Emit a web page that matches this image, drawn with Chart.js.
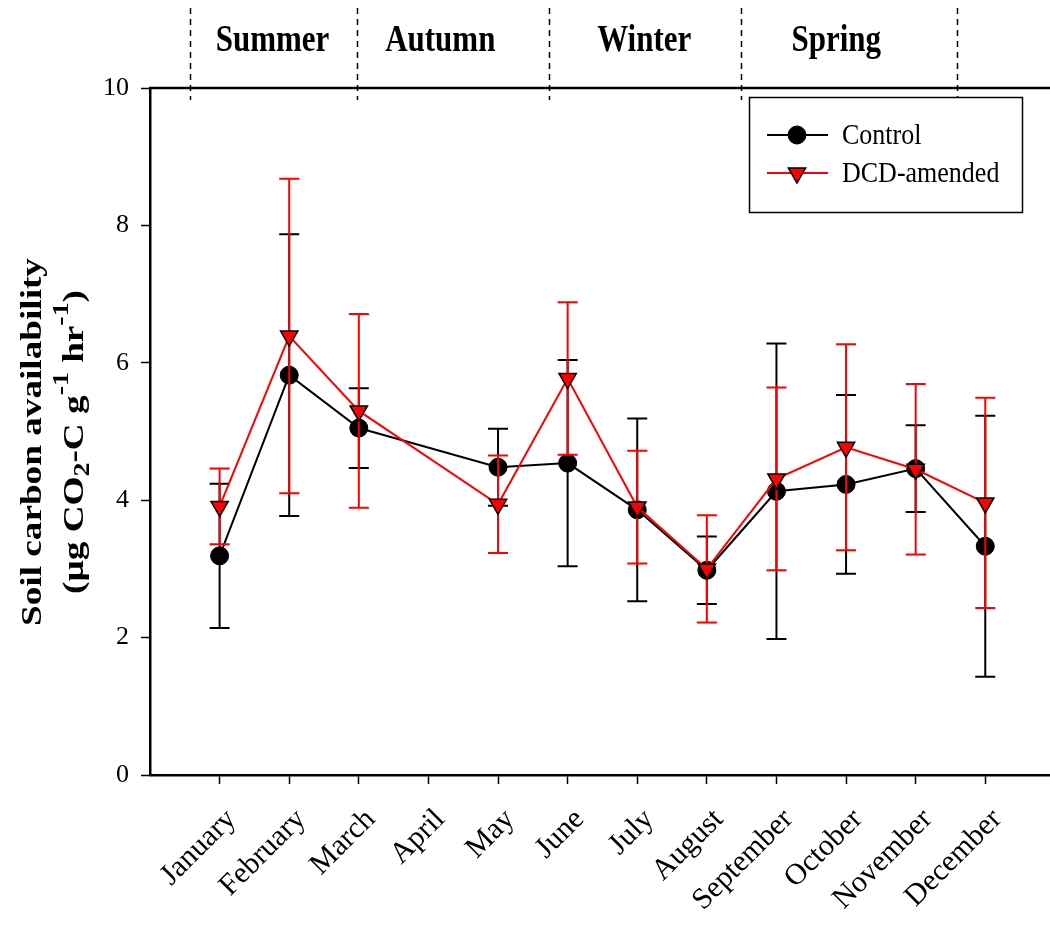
<!DOCTYPE html>
<html>
<head>
<meta charset="utf-8">
<script src="https://cdn.jsdelivr.net/npm/chart.js@4.4.0/dist/chart.umd.min.js"></script>
<style>
  html, body { margin: 0; padding: 0; background: #fff; }
  #wrap { width: 1050px; height: 930px; }
</style>
</head>
<body>
<div id="wrap"><canvas id="soilChart" width="1050" height="930"></canvas></div>
<script>
const months = ['January', 'February', 'March', 'April', 'May', 'June',
  'July', 'August', 'September', 'October', 'November', 'December'];
// April was not sampled
const control    = [3.19, 5.82, 5.05, null, 4.48, 4.54, 3.86, 2.98, 4.13, 4.23, 4.46, 3.33];
const controlErr = [1.05, 2.05, 0.58, null, 0.56, 1.50, 1.33, 0.49, 2.15, 1.30, 0.63, 1.90];
const dcd        = [3.91, 6.39, 5.30, null, 3.94, 5.77, 3.90, 3.00, 4.31, 4.77, 4.45, 3.96];
const dcdErr     = [0.55, 2.29, 1.41, null, 0.71, 1.11, 0.82, 0.78, 1.33, 1.50, 1.24, 1.53];
const yTicks = [0, 2, 4, 6, 8, 10];
const seasons = ['Summer', 'Autumn', 'Winter', 'Spring'];
const seasonCentres = [1.76, 4.17, 7.10, 9.86];
const seasonBounds = [0.57, 2.97, 5.73, 8.49, 11.59];

const SERIF = '"Liberation Serif", "Times New Roman", serif';

function toPoints(vals) {
  return vals.map((v, i) => ({ x: i + 1, y: v }));
}

// vertical error bars with caps, drawn just before each series
const errorBars = {
  id: 'errorBars',
  beforeDatasetDraw(chart, args) {
    const ds = chart.data.datasets[args.index];
    const errs = ds.errors;
    if (!errs) return;
    const xs = chart.scales.x, ys = chart.scales.y;
    const ctx = chart.ctx;
    ctx.save();
    ctx.strokeStyle = ds.borderColor;
    ctx.lineWidth = 2;
    ds.data.forEach((p, i) => {
      if (p.y == null || errs[i] == null) return;
      const x = xs.getPixelForValue(p.x);
      const top = ys.getPixelForValue(p.y + errs[i]);
      const bot = ys.getPixelForValue(p.y - errs[i]);
      ctx.beginPath();
      ctx.moveTo(x, top); ctx.lineTo(x, bot);
      ctx.moveTo(x - 10, top); ctx.lineTo(x + 10, top);
      ctx.moveTo(x - 10, bot); ctx.lineTo(x + 10, bot);
      ctx.stroke();
    });
    ctx.restore();
  }
};

// top frame line, season strip and dashed season dividers
const seasonStrip = {
  id: 'seasonStrip',
  afterDraw(chart) {
    const ctx = chart.ctx;
    const area = chart.chartArea;
    const xs = chart.scales.x;
    ctx.save();
    ctx.strokeStyle = '#000';
    ctx.lineWidth = 2.5;
    ctx.beginPath();
    ctx.moveTo(area.left - 1, area.top);
    ctx.lineTo(area.right, area.top);
    ctx.stroke();

    ctx.lineWidth = 1.5;
    ctx.setLineDash([6, 5]);
    seasonBounds.forEach(b => {
      const x = Math.round(xs.getPixelForValue(b)) + 0.5;
      ctx.beginPath();
      ctx.moveTo(x, 8);
      ctx.lineTo(x, area.top + 12);
      ctx.stroke();
    });
    ctx.setLineDash([]);

    ctx.fillStyle = '#000';
    ctx.font = 'bold 31px ' + SERIF;
    ctx.textAlign = 'center';
    ctx.textBaseline = 'alphabetic';
    seasons.forEach((s, i) => {
      const x = xs.getPixelForValue(seasonCentres[i]);
      ctx.save();
      ctx.translate(x, 51);
      ctx.scale(1, 1.2);
      ctx.fillText(s, 0, 0);
      ctx.restore();
    });
    ctx.restore();
  }
};

// boxed legend in the upper right of the plot
const boxLegend = {
  id: 'boxLegend',
  afterDraw(chart) {
    const ctx = chart.ctx;
    ctx.save();
    ctx.fillStyle = '#fff';
    ctx.fillRect(749, 97, 273, 115);
    ctx.strokeStyle = '#000';
    ctx.lineWidth = 1.5;
    ctx.strokeRect(749.5, 97.5, 273, 115);
    const rows = [135, 173];
    chart.data.datasets.forEach((ds, i) => {
      const y = rows[i];
      ctx.strokeStyle = ds.borderColor;
      ctx.lineWidth = 2;
      ctx.beginPath();
      ctx.moveTo(767, y); ctx.lineTo(828, y);
      ctx.stroke();
      ctx.fillStyle = ds.pointBackgroundColor;
      ctx.strokeStyle = ds.pointBorderColor;
      ctx.lineWidth = ds.pointBorderWidth;
      Chart.helpers.drawPoint(ctx, {
        pointStyle: ds.pointStyle,
        rotation: ds.pointRotation || 0,
        radius: ds.pointRadius,
        borderWidth: ds.pointBorderWidth
      }, 797, y);
      ctx.fillStyle = '#000';
      ctx.font = '26px ' + SERIF;
      ctx.textAlign = 'left';
      ctx.textBaseline = 'middle';
      ctx.save();
      ctx.translate(842, y + 1);
      ctx.scale(1, 1.15);
      ctx.fillText(ds.label, 0, 0);
      ctx.restore();
    });
    ctx.restore();
  }
};

// two-line y title with sub/superscripts
function drawRuns(ctx, runs, size, bold) {
  const w = runs.reduce((acc, r) => {
    const s = r.kind ? size * 0.75 : size;
    ctx.font = (bold ? 'bold ' : '') + s + 'px ' + SERIF;
    return acc + ctx.measureText(r.t).width;
  }, 0);
  let x = -w / 2;
  runs.forEach(r => {
    const s = r.kind ? size * 0.75 : size;
    ctx.font = (bold ? 'bold ' : '') + s + 'px ' + SERIF;
    let dy = 0;
    if (r.kind === 'sub') dy = size * 0.28;
    if (r.kind === 'sup') dy = -size * 0.42;
    ctx.fillText(r.t, x, dy);
    x += ctx.measureText(r.t).width;
  });
}

const yTitle = {
  id: 'yTitle',
  afterDraw(chart) {
    const ctx = chart.ctx;
    ctx.save();
    ctx.fillStyle = '#000';
    ctx.textAlign = 'left';
    ctx.textBaseline = 'middle';
    const lines = [
      { x: 33, runs: [{ t: 'Soil carbon availability' }] },
      { x: 75, runs: [{ t: '(\u00b5g CO' }, { t: '2', kind: 'sub' }, { t: '-C g' },
        { t: '-1', kind: 'sup' }, { t: ' hr' }, { t: '-1', kind: 'sup' }, { t: ')' }] }
    ];
    lines.forEach(l => {
      ctx.save();
      ctx.translate(l.x, 442);
      ctx.rotate(-Math.PI / 2);
      ctx.scale(1.24, 1);
      drawRuns(ctx, l.runs, 30, true);
      ctx.restore();
    });
    ctx.restore();
  }
};

const ctx = document.getElementById('soilChart').getContext('2d');
const soilChart = new Chart(ctx, {
  type: 'line',
  data: {
    datasets: [{
      label: 'Control',
      data: toPoints(control),
      errors: controlErr,
      order: 2,
      borderColor: '#000',
      borderWidth: 2,
      pointStyle: 'circle',
      pointRadius: 9,
      pointBackgroundColor: '#000',
      pointBorderColor: '#000',
      pointBorderWidth: 1,
      spanGaps: true
    }, {
      label: 'DCD-amended',
      data: toPoints(dcd),
      errors: dcdErr,
      order: 1,
      borderColor: '#ff0000',
      borderWidth: 2,
      pointStyle: 'triangle',
      pointRotation: 180,
      pointRadius: 10,
      pointBackgroundColor: '#ff0000',
      pointBorderColor: '#000',
      pointBorderWidth: 1.5,
      spanGaps: true
    }]
  },
  options: {
    responsive: false,
    animation: false,
    events: [],
    layout: {
      autoPadding: false,
      padding: { top: 88, right: 0, left: 0, bottom: 0 }
    },
    plugins: {
      legend: { display: false },
      tooltip: { enabled: false }
    },
    scales: {
      x: {
        type: 'linear',
        min: 0,
        max: 12.93,
        afterFit(scale) {
          scale.height = 155;
          scale.paddingLeft = 0;
          scale.paddingRight = 0;
        },
        afterBuildTicks(scale) {
          scale.ticks = months.map((m, i) => ({ value: i + 1 }));
        },
        ticks: {
          minRotation: 45,
          maxRotation: 45,
          padding: 18,
          labelOffset: 12,
          color: '#000',
          font: { family: SERIF, size: 30 },
          callback: v => months[v - 1]
        },
        grid: {
          drawOnChartArea: false,
          drawTicks: true,
          tickLength: 9,
          tickWidth: 1.5,
          tickColor: '#000'
        },
        border: { color: '#000', width: 2.5 }
      },
      y: {
        min: 0,
        max: 10,
        afterFit(scale) { scale.width = 150; },
        afterBuildTicks(scale) {
          scale.ticks = yTicks.map(v => ({ value: v }));
        },
        ticks: {
          padding: 12,
          color: '#000',
          font: { family: SERIF, size: 26 }
        },
        grid: {
          drawOnChartArea: false,
          drawTicks: true,
          tickLength: 9,
          tickWidth: 1.5,
          tickColor: '#000'
        },
        border: { color: '#000', width: 2.5 }
      }
    }
  },
  plugins: [errorBars, seasonStrip, boxLegend, yTitle]
});
</script>
</body>
</html>
